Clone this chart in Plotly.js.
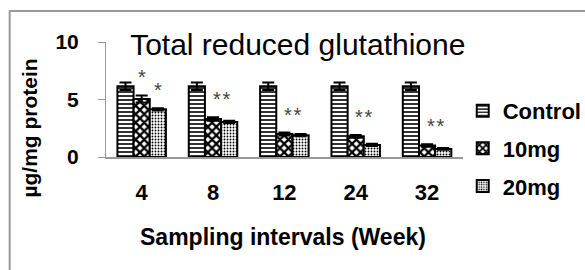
<!DOCTYPE html>
<html><head><meta charset="utf-8">
<script src="https://cdn.plot.ly/plotly-3.0.1.min.js"></script>
<style>html,body{margin:0;padding:0;background:#fff}#c{width:585px;height:270px}</style>
</head><body><div id="c"></div>
<script>
var weeks = ["4", "8", "12", "24", "32"];
var seriesNames = ["Control", "10mg", "20mg"];
var control = [6.15, 6.15, 6.15, 6.15, 6.15];
var mg10 = [5.05, 3.3, 2.0, 1.8, 1.0];
var mg20 = [4.15, 3.05, 1.9, 1.05, 0.7];
var errControl = [0.32, 0.32, 0.32, 0.32, 0.32];
var err10 = [0.3, 0.15, 0.12, 0.12, 0.1];
var err20 = [0.1, 0.1, 0.1, 0.1, 0.08];
// significance marks: [category index, series index (1=10mg, 2=20mg, 1.5=both), label]
var sigMarks = [[0, 1, "*"], [0, 2, "*"], [1, 1.5, "*\u200A*"], [2, 1.5, "*\u200A*"], [3, 1.5, "*\u200A*"], [4, 1.5, "*\u200A*"]];
var chartTitle = "Total reduced glutathione";
var xTitle = "Sampling intervals (Week)";
var yTitle = "µg/mg protein";

var font = "Liberation Sans, Arial, sans-serif";
var patterns = [
  {shape: "-", size: 4, solidity: 0.4, fgcolor: "#000", bgcolor: "#fff"},
  {shape: "x", size: 6, solidity: 0.6, fgcolor: "#000", bgcolor: "#fff"},
  {shape: ".", size: 3, solidity: 0.3, fgcolor: "#000", bgcolor: "#fff"}
];
var vals = [control, mg10, mg20];
var errs = [errControl, err10, err20];
var traces = vals.map(function (v, i) {
  return {
    type: "bar", x: weeks, y: v, name: seriesNames[i], legendgroup: "g" + i,
    marker: {color: "#fff", pattern: patterns[i], line: {color: "#000", width: 2}},
    error_y: {type: "data", array: errs[i], visible: true, color: "#000", thickness: 2, width: 6}
  };
});

var bw = 0.68 / 3;
var annotations = sigMarks.map(function (m) {
  var ci = m[0], s = m[1];
  var top;
  if (s === 1.5) top = Math.max(mg10[ci] + err10[ci], mg20[ci] + err20[ci]);
  else top = vals[s][ci] + errs[s][ci];
  return {x: ci + (s - 1) * bw, y: top, xref: "x", yref: "y", text: m[2], showarrow: false,
    yanchor: "middle", yshift: 18, font: {family: font, size: 20, color: "#444"}};
});
annotations.push({text: xTitle, xref: "paper", yref: "paper", x: 0.497, y: -0.696,
  yanchor: "middle", showarrow: false, font: {family: font, size: 23, weight: "bold", color: "#000"}});
annotations.push({text: yTitle, xref: "paper", yref: "paper", x: -0.217, y: 0.252, textangle: -90,
  xanchor: "center", yanchor: "middle", showarrow: false, font: {family: font, size: 21, weight: "bold", color: "#000"}});

var layout = {
  width: 585, height: 270,
  margin: {l: 106, r: 120, t: 42, b: 113},
  paper_bgcolor: "#fff", plot_bgcolor: "#fff",
  barmode: "group", bargap: 0.32, bargroupgap: 0,
  font: {family: font, color: "#000"},
  title: {text: chartTitle, xref: "container", yref: "container", x: 0.509, xanchor: "center",
    y: 0.837, yanchor: "middle", font: {family: font, size: 30, color: "#000"}},
  showlegend: true,
  legend: {xref: "container", yref: "container", x: 0.791, xanchor: "left", y: 0.667, yanchor: "top",
    tracegroupgap: 6, maxheight: 300,
    font: {family: font, size: 22, weight: "bold", color: "#000"}, itemwidth: 30},
  xaxis: {type: "category", showline: true, linecolor: "#999", linewidth: 2, ticks: "",
    tickfont: {family: font, size: 22, weight: "bold", color: "#000"}, ticklabelstandoff: 15,
    showgrid: false, zeroline: false},
  yaxis: {range: [0, 10], tickvals: [0, 5, 10], showline: true, linecolor: "#999", linewidth: 1,
    ticks: "outside", ticklen: 7, tickcolor: "#999", showgrid: false, zeroline: false,
    tickfont: {family: font, size: 21, weight: "bold", color: "#000"}, ticklabelstandoff: 15},
  annotations: annotations,
  shapes: [{type: "rect", xref: "paper", yref: "paper", x0: -0.27, x1: 2, y0: -2, y1: 1.27,
    line: {color: "#999", width: 2}, fillcolor: "rgba(0,0,0,0)", layer: "below"}]
};
Plotly.newPlot("c", traces, layout, {displayModeBar: false, staticPlot: true});
</script></body></html>
